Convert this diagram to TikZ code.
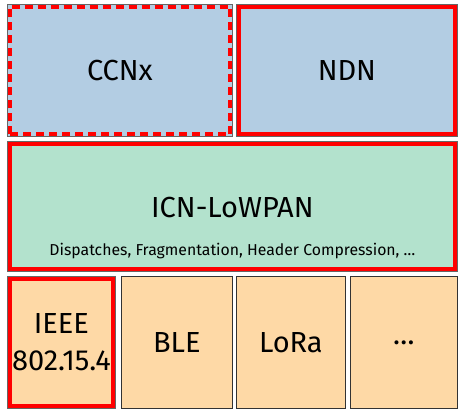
\documentclass[tikz,border=0pt]{standalone}
\usepackage{fontspec}
\setmainfont{Fira Sans}
\usepackage{tikz}
\usetikzlibrary{calc}
\definecolor{netblue}{HTML}{B3CDE3}
\definecolor{lowgreen}{HTML}{B3E2CD}
\definecolor{linkorange}{HTML}{FED9A6}
\definecolor{markred}{HTML}{FF0000}
\tikzset{
  layer/.style={draw=black!60, line width=0.8pt, inner sep=0pt, anchor=south west, align=center, font=\fontsize{29}{37}\selectfont},
  redframe/.style={draw=markred, line width=4pt}
}

\begin{document}
\begin{tikzpicture}[x=1pt,y=1pt]
		%%%%% START %%%%%
		\useasboundingbox (0,0) rectangle (459,409);
		
		% upper layer
		\node[layer, fill=netblue, minimum width=225, minimum height=132] (ccnx) at (7, 272) {CCNx};
		\node[layer, fill=netblue, minimum width=221, minimum height=132] (ndn) at (236, 272) {NDN};
		
		% adaptation layer
		\node[layer, fill=lowgreen, minimum width=450, minimum height=130] (lowpan) at (7, 137) {};
		\node[font=\fontsize{29}{32}\selectfont] (lowpantitle) at ($(lowpan.center)+(0,-1)$) {ICN-LoWPAN};
		\node[font=\fontsize{15.8}{18}\selectfont] (lowpansub) at ($(lowpan.south)+(0,21)$) {Dispatches, Fragmentation, Header Compression, \dots};
		
		% link layer
		\node[layer, fill=linkorange, minimum width=108, minimum height=132] (ieee) at (7, 0) {IEEE\\802.15.4};
		\node[layer, fill=linkorange, minimum width=111, minimum height=132, draw=black!80] (ble) at (121, 0) {BLE};
		\node[layer, fill=linkorange, minimum width=109, minimum height=132, draw=black!80] (lora) at (236, 0) {LoRa};
		\node[layer, fill=linkorange, minimum width=107, minimum height=132, draw=black!80] (more) at (350, 0) {\dots};
		
		% red marks
		\draw[redframe, dash pattern=on 8pt off 5pt] ($(ccnx.south west)+(2.5,2.5)$) rectangle ($(ccnx.north east)+(-2.5,-2.5)$);
		\draw[redframe] ($(ndn.south west)+(2.5,2.5)$) rectangle ($(ndn.north east)+(-2.5,-2.5)$);
		\draw[redframe] ($(lowpan.south west)+(2.5,2.5)$) rectangle ($(lowpan.north east)+(-2.5,-2.5)$);
		\draw[redframe] ($(ieee.south west)+(2.5,2.5)$) rectangle ($(ieee.north east)+(-2.5,-2.5)$);
		
		%%%%% END %%%%%
	\end{tikzpicture}
\end{document}
